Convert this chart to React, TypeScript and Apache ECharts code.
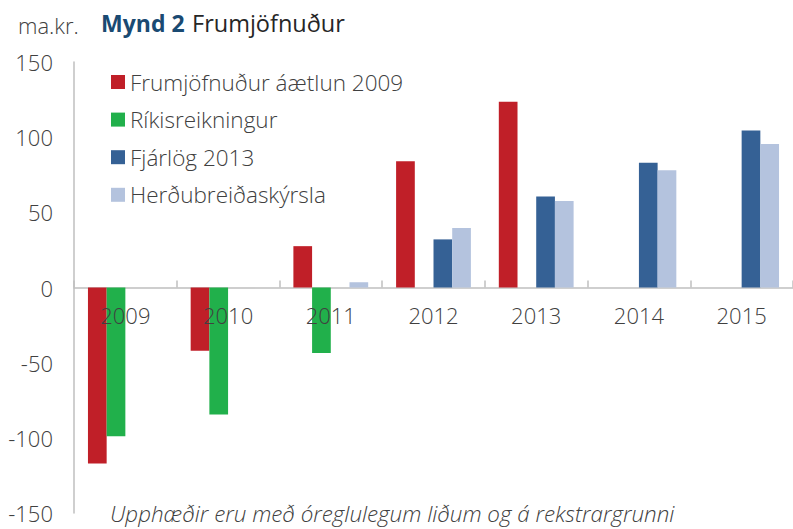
import React, { useEffect, useRef } from "react";
import * as echarts from "echarts";

const years = ["2009", "2010", "2011", "2012", "2013", "2014", "2015"];
const seriesNames = [
  "Frumjöfnuður áætlun 2009",
  "Ríkisreikningur",
  "Fjárlög 2013",
  "Herðubreiðaskýrsla",
];
const aaetlun2009 = [-117, -42, 27.5, 84, 123.5, null, null];
const rikisreikningur = [-99, -84.5, -43.5, null, null, null, null];
const fjarlog2013 = [null, null, null, 32, 60.5, 83, 104.5];
const herdubreid = [null, null, 3.5, 39.5, 57.5, 78, 95.5];
const colors = ["#c01f28", "#21b04b", "#356195", "#b4c3de"];

const FONT = "Open Sans";
const TXT = "#404040";

export default function App() {
  const ref = useRef<HTMLDivElement>(null);
  useEffect(() => {
    const chart = echarts.init(ref.current!, undefined, { renderer: "svg" });
    const data = [aaetlun2009, rikisreikningur, fjarlog2013, herdubreid];
    chart.setOption({
      animation: false,
      textStyle: { fontFamily: FONT },
      grid: {
        left: 74,
        top: 62,
        right: 0,
        bottom: 16,
        containLabel: false,
        outerBoundsMode: "none",
      },
      legend: {
        orient: "vertical",
        left: 106,
        top: 65,
        icon: "rect",
        itemWidth: 14,
        itemHeight: 14,
        itemGap: 13.6,
        data: seriesNames,
        textStyle: {
          fontFamily: FONT,
          fontSize: 22.5,
          color: TXT,
          fontWeight: 300,
          lineHeight: 24,
        },
      },
      xAxis: [
        {
          type: "category",
          data: years,
          axisLine: { onZero: true, lineStyle: { color: "#bfbfbf", width: 1.5 } },
          axisTick: { show: true, inside: true, length: 7, lineStyle: { color: "#bfbfbf", width: 1.5 } },
          axisLabel: { show: false },
          splitLine: { show: false },
        },
        {
          type: "category",
          data: years,
          position: "bottom",
          offset: -226,
          z: 10,
          axisLine: { show: false, onZero: false },
          axisTick: { show: false },
          axisLabel: { fontFamily: FONT, fontSize: 22, color: TXT, margin: 17, fontWeight: 300 },
          splitLine: { show: false },
        },
      ],
      yAxis: {
        type: "value",
        min: -150,
        max: 150,
        interval: 50,
        axisLine: { show: true, lineStyle: { color: "#bfbfbf", width: 1.5 } },
        axisTick: { show: false },
        splitLine: { show: false },
        axisLabel: { fontFamily: FONT, fontSize: 22, color: TXT, margin: 21, fontWeight: 300 },
      },
      series: seriesNames.map((name, i) => ({
        name,
        type: "bar",
        data: data[i],
        barWidth: 18.7,
        barGap: "0%",
        itemStyle: { color: colors[i] },
      })),
      graphic: [
        {
          type: "text",
          left: 18,
          top: 14,
          style: { text: "ma.kr.", font: `300 22px "${FONT}"`, fill: TXT },
        },
        {
          type: "text",
          left: 101,
          top: 11,
          style: { text: "Mynd 2", font: `bold 23px "${FONT}"`, fill: "#1a4a72" },
        },
        {
          type: "text",
          left: 192,
          top: 11,
          style: { text: "Frumjöfnuður", font: `23.5px "${FONT}"`, fill: "#262626" },
        },
        {
          type: "text",
          left: 110,
          top: 502,
          style: {
            text: "Upphæðir eru með óreglulegum liðum og á rekstrargrunni",
            font: `italic 300 22.4px "${FONT}"`,
            fill: TXT,
          },
        },
      ],
    });
    return () => chart.dispose();
  }, []);
  return <div ref={ref} style={{ width: 793, height: 529, position: "absolute", left: 0, top: 0 }} />;
}
